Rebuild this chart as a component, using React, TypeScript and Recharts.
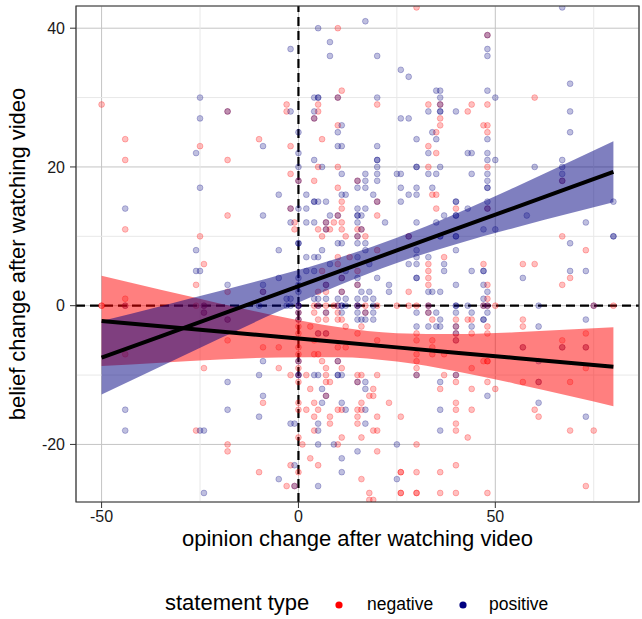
import {
  ComposedChart,
  Scatter,
  Area,
  Line,
  XAxis,
  YAxis,
  CartesianGrid,
  ReferenceLine,
  ReferenceArea,
} from 'recharts'

// opinion change (x) vs belief change (y), one row per answer
const NEGATIVE: [number, number][] = [
  [-50, 29], [-44, 24], [-44, 21], [-44, 11], [-25, 23], [-25, 10], [-18, 28], [-18, 21], [-18, 13], [-10, 24],
  [-3, 29], [-3, 28], [-2, 23], [-2, 19], [-2, 14], [-1, 12], [-1, 11], [0, 18],
  [-50, 0], [-50, 0], [-44, 1], [-44, 0], [-44, -7], [-24, 6], [-26, 3], [-26, 0], [-24, 0], [-24, -1], [-24, -9],
  [-26, -18], [-18, 2], [-18, -2], [-18, -5], [-18, -20], [-18, -21], [-10, -24], [-9, 2], [-9, -6], [-9, -14],
  [-5, -6], [-5, -9], [-3, -26], [-2, -23], [-1, -26], [-2, -10], [0, -10], [0, -3], [0, -4], [0, -6], [0, -7],
  [0, -8], [0, -9], [0, -11], [0, -14], [0, -15], [0, -19], [0, -24], [0, -1], [0, 0],
  [6, -8], [7, -9], [10, -8], [11, -9], [7, -10], [15, -10], [16, -10], [20, -10], [7, -11], [8, -11], [15, -11],
  [19, -12], [7, -13], [18, -13], [19, -13], [16, -14], [23, -14], [5, -15], [10, -15], [11, -15], [15, -15],
  [16, -15], [4, -16], [8, -16], [15, -16], [20, -16], [8, -17], [15, -17], [4, -18], [19, -18], [20, -18],
  [11, -19], [16, -19], [10, -20], [20, -21], [5, -23], [26, -24], [16, -25], [18, -27], [26, -27], [18, -28],
  [19, -28], [5, -4], [7, -4], [15, -4], [10, -6], [12, -6], [4, -5], [20, -5],
  [2, -10], [3, -12], [4, -14], [2, -15], [1, -20], [3, -22], [4, -7], [5, -7],
  [10, 40], [11, 31], [10, 30], [5, 29], [20, 29], [5, 28], [4, 27], [10, 26], [6, 24], [5, 20], [10, 20],
  [30, 43], [48, 39], [33, 29], [36, 29], [44, 29], [48, 29], [43, 28], [36, 27], [36, 26], [47, 26], [48, 26],
  [35, 25], [48, 25], [33, 23], [35, 22], [33, 20], [48, 20],
  [60, 30], [67, 18], [67, 10], [73, 8],
  [4, 18], [15, 18], [10, 17], [11, 15], [20, 15], [11, 14], [10, 13], [20, 13], [7, 12], [9, 12], [11, 12],
  [5, 11], [7, 11], [8, 11], [11, 11], [15, 11], [16, 11], [6, 10], [15, 10], [17, 10], [12, 10], [10, 7],
  [4, 0], [5, 0], [7, 0], [9, 0], [10, 0], [15, 0], [17, 0], [20, 0], [25, 0], [4, -1], [7, -1], [10, -1],
  [17, -1], [0, -2], [5, -2], [7, -2], [10, -2], [11, -2], [5, 2], [7, 2], [11, 2], [7, 3], [15, 3], [11, 4],
  [3, -3], [12, -3], [16, -3], [6, 5], [10, 6], [13, 7], [15, 5], [20, 8],
  [34, 16], [35, 16], [35, 14], [40, 14], [48, 14], [28, 10], [37, 7], [33, 6], [47, 6], [33, 5], [33, 4],
  [33, 3], [48, 3], [28, 2], [48, 1], [28, 0], [30, 0], [33, 0], [47, 0], [48, 0], [50, 0], [33, -1], [34, -2],
  [40, -2], [43, -2], [44, -2], [40, -3], [48, -3], [30, -4], [44, -4], [48, -4], [40, -4],
  [30, -5], [34, -5], [40, -5], [34, -6], [30, -7], [34, -7], [37, -7], [30, -8], [47, -8], [48, -8], [48, -8],
  [30, -9], [44, -9], [30, -10], [37, -10], [40, -10], [40, -11], [48, -11], [36, -12], [44, -12], [50, -12],
  [40, -14], [40, -15], [44, -15], [26, -16], [40, -17], [40, -18], [43, -19], [30, -20], [40, -23], [26, -24],
  [30, -24], [36, -24], [26, -27], [30, -27], [30, -27], [36, -27], [40, -27], [48, -27],
  [57, 6], [60, 6], [69, 4], [67, 3], [75, 0], [80, 0], [57, -2], [57, -3], [73, -4], [67, -5], [57, -6],
  [67, -6], [73, -6], [73, -9], [57, -11], [61, -11], [69, -11], [60, -15], [61, -16], [69, -18], [75, -18],
  [73, -26],
]

const POSITIVE: [number, number][] = [
  [-44, 14], [-25, 30], [-25, 27], [-26, 22], [-25, 17], [-26, 8], [-18, 28], [-9, 23], [-5, 16], [-9, 13],
  [-5, 8], [-2, 28], [-2, 37], [0, 25], [0, 22], [0, 20], [0, 18], [-2, 14], [-2, 12], [0, 14], [0, 9], [0, 9],
  [2, 16], [2, 14], [2, 12],
  [-44, 0], [-44, -15], [-44, -18], [-26, 5], [-25, 5], [-24, 0], [-24, -1], [-25, -18], [-24, -18], [-24, -27],
  [-18, 3], [-18, -2], [-18, -11], [-18, -15], [-9, 3], [-9, 2], [-10, 0], [-9, -8], [-10, -10], [-9, -13],
  [-10, -16], [-5, 4], [-5, -25], [-2, -17], [-1, -23], [-3, 0], [-2, 0], [-3, 1], [-2, 1], [-1, -17],
  [-1, -26], [0, -8], [0, -10], [0, -10],
  [4, -10], [5, -10], [10, -10], [10, -10], [11, -10], [15, -11], [17, -11], [6, -12], [17, -12], [7, -13],
  [6, -14], [11, -14], [12, -15], [17, -15], [5, -17], [17, -17], [5, -18], [5, -20], [9, -20], [25, -20],
  [15, -21], [11, -22], [11, -24], [25, -25], [5, -26], [5, -4], [7, -4], [10, -8],
  [5, 40], [17, 41], [8, 38], [8, 36], [20, 36], [26, 34], [4, 30], [5, 30], [5, 30], [10, 30], [20, 30],
  [4, 28], [4, 27], [26, 27], [11, 26], [10, 25], [10, 23], [11, 23], [20, 23], [4, 21], [20, 21], [20, 21],
  [6, 20], [20, 20],
  [48, 39], [48, 37], [48, 36], [28, 33], [35, 31], [36, 31], [48, 31], [36, 30], [50, 30], [36, 29], [33, 28],
  [36, 28], [36, 28], [40, 28], [28, 27], [34, 25], [30, 24], [35, 24], [48, 24], [33, 22], [43, 22], [44, 22],
  [48, 22], [48, 21], [50, 21], [30, 20], [30, 20], [36, 20],
  [67, 43], [69, 32], [69, 28], [69, 25], [60, 20], [67, 21], [67, 20], [67, 19], [67, 18], [80, 15], [58, 13],
  [73, 12], [80, 10], [80, 10], [69, 9],
  [17, 19], [17, 18], [20, 19], [20, 18], [25, 19], [11, 19], [15, 17], [17, 17], [11, 16], [12, 16], [19, 16],
  [4, 15], [4, 15], [5, 15], [7, 15], [20, 15], [26, 15], [15, 14], [17, 14], [8, 13], [10, 13], [15, 13],
  [15, 13], [16, 13], [4, 12], [7, 12], [15, 12], [22, 12], [7, 11], [16, 11], [15, 10], [10, 9], [11, 9],
  [15, 9], [17, 9], [6, 8], [17, 8], [2, 7], [4, 7], [5, 7], [15, 7], [15, 18],
  [0, 4], [0, 3], [0, 2], [0, 0], [0, 0], [0, 0], [5, 0], [10, 0], [11, 0], [11, 0], [12, 0], [15, 0], [15, 0],
  [19, 0], [0, -1], [7, -1], [11, -1], [15, -1], [17, -1], [19, -1], [0, -2], [15, -2], [16, -2], [17, -2],
  [19, -2], [4, 1], [5, 1], [7, 1], [10, 1], [12, 1], [15, 1], [17, 1], [19, 1], [11, 2], [16, 2], [18, 2],
  [7, 3], [15, 3], [23, 3], [11, 4], [15, 4], [23, 2], [4, 5], [8, 6], [12, 5], [2, 5], [18, 6], [20, 4],
  [26, 19], [33, 19], [35, 19], [44, 19], [48, 19], [48, 18], [26, 17], [30, 17], [34, 17], [48, 17], [48, 17],
  [28, 16], [30, 16], [40, 15], [40, 15], [48, 15], [43, 14], [48, 14], [37, 13], [40, 13], [40, 13], [30, 12],
  [35, 12], [47, 11], [50, 11], [28, 10], [36, 10], [36, 10], [40, 10], [40, 10], [30, 8], [40, 8], [30, 7],
  [33, 7], [28, 6], [30, 6], [37, 6], [37, 5], [44, 5], [47, 5], [47, 5], [30, 4], [30, 4], [40, 3], [47, 3],
  [33, 2], [34, 2], [36, 2], [48, 2], [47, 1], [33, 0], [40, 0], [40, 0], [43, 0], [47, 0], [48, 0],
  [30, -1], [33, -1], [35, -1], [40, -1], [44, -1], [48, -1], [36, -2], [47, -2], [47, -2], [30, -3], [33, -3],
  [35, -3], [36, -3], [40, -3], [44, -3],
  [40, -4], [40, -5], [30, -10], [40, -10], [36, -11], [48, -13], [36, -15], [36, -18],
  [69, 5], [73, 5], [57, 4], [61, 0], [75, 0], [73, -2], [61, -3], [57, -6], [67, -6], [73, -6], [61, -8],
  [61, -11], [61, -14], [73, -16],
]

// linear fits with 95% bands, read at a few x positions
const BAND_X = [-50, -35, -20, -5, 10, 25, 40, 55, 70, 80]
const NEG_FIT = [-2.2, -2.96, -3.72, -4.49, -5.25, -6.01, -6.77, -7.53, -8.29, -8.8]
const NEG_LO = [-8.7, -8.21, -7.77, -7.46, -7.43, -8.06, -9.45, -11.24, -13.17, -14.5]
const NEG_HI = [4.3, 2.29, 0.33, -1.52, -3.07, -3.96, -4.09, -3.82, -3.41, -3.1]
const POS_FIT = [-7.5, -4.41, -1.31, 1.78, 4.87, 7.97, 11.06, 14.15, 17.24, 19.3]
const POS_LO = [-12.8, -8.75, -4.73, -0.81, 2.89, 6.16, 8.87, 11.24, 13.46, 14.9]
const POS_HI = [-2.2, -0.07, 2.11, 4.37, 6.85, 9.78, 13.25, 17.06, 21.02, 23.7]

const X_TICKS = [-50, 0, 50]
const Y_TICKS = [-20, 0, 20, 40]
const X_MINOR = [-25, 25, 75]
const Y_MINOR = [-10, 10, 30]
const X_DOMAIN: [number, number] = [-56.5, 86.5]
const Y_DOMAIN: [number, number] = [-28.3, 43.2]

const RED = '#FF0000'
const NAVY = '#000080'
const FONT = '"Liberation Sans", Arial, Helvetica, sans-serif'

const negPoints = NEGATIVE.map(([x, y]) => ({ x, y }))
const posPoints = POSITIVE.map(([x, y]) => ({ x, y }))
const negBand = BAND_X.map((x, i) => ({ x, y: NEG_FIT[i], band: [NEG_LO[i], NEG_HI[i]] }))
const posBand = BAND_X.map((x, i) => ({ x, y: POS_FIT[i], band: [POS_LO[i], POS_HI[i]] }))

const dot = (color: string) => (props: any) => (
  <circle
    cx={props.cx}
    cy={props.cy}
    r={2.9}
    fill={color}
    fillOpacity={0.25}
    stroke={color}
    strokeOpacity={0.25}
    strokeWidth={1}
  />
)

const TICK_STYLE = { fill: '#1a1a1a', fontSize: 16 }

export default function App() {
  return (
    <div
      style={{
        position: 'absolute',
        left: 0,
        top: 0,
        width: 642,
        height: 619,
        background: '#fff',
        fontFamily: FONT,
        color: '#000',
      }}
    >
      <ComposedChart width={642} height={560} margin={{ top: 6, right: 3, bottom: 0, left: 0 }}>
        <CartesianGrid stroke="#c4c4c4" strokeWidth={1} />
        {X_MINOR.map((v) => (
          <ReferenceLine key={'xm' + v} x={v} stroke="#e8e8e8" strokeWidth={1} zIndex={-90} />
        ))}
        {Y_MINOR.map((v) => (
          <ReferenceLine key={'ym' + v} y={v} stroke="#e8e8e8" strokeWidth={1} zIndex={-90} />
        ))}
        <XAxis
          type="number"
          dataKey="x"
          domain={X_DOMAIN}
          allowDataOverflow
          ticks={X_TICKS}
          interval={0}
          tickSize={6}
          tickMargin={3}
          axisLine={false}
          tickLine={{ stroke: '#333' }}
          tick={TICK_STYLE}
          height={58}
        />
        <YAxis
          type="number"
          dataKey="y"
          domain={Y_DOMAIN}
          allowDataOverflow
          ticks={Y_TICKS}
          interval={0}
          tickSize={6}
          tickMargin={5}
          axisLine={false}
          tickLine={{ stroke: '#333' }}
          tick={TICK_STYLE}
          width={76}
        />
        <ReferenceLine x={0} stroke="#000" strokeWidth={2.2} strokeDasharray="9 5" zIndex={50} />
        <ReferenceLine y={0} stroke="#000" strokeWidth={2.2} strokeDasharray="9 5" zIndex={50} />
        <Scatter data={negPoints} dataKey="y" fill={RED} shape={dot(RED)} isAnimationActive={false} zIndex={60} />
        <Scatter data={posPoints} dataKey="y" fill={NAVY} shape={dot(NAVY)} isAnimationActive={false} zIndex={60} />
        <Area
          data={negBand}
          dataKey="band"
          type="monotone"
          stroke="none"
          fill={RED}
          fillOpacity={0.5}
          isAnimationActive={false}
          zIndex={100}
        />
        <Area
          data={posBand}
          dataKey="band"
          type="monotone"
          stroke="none"
          fill={NAVY}
          fillOpacity={0.5}
          isAnimationActive={false}
          zIndex={101}
        />
        <Line data={negBand} dataKey="y" stroke="#000" strokeWidth={4} dot={false} isAnimationActive={false} zIndex={400} />
        <Line data={posBand} dataKey="y" stroke="#000" strokeWidth={4} dot={false} isAnimationActive={false} zIndex={400} />
        <ReferenceArea
          x1={X_DOMAIN[0]}
          x2={X_DOMAIN[1]}
          y1={Y_DOMAIN[0]}
          y2={Y_DOMAIN[1]}
          fill="none"
          fillOpacity={0}
          stroke="#333"
          strokeWidth={1.2}
          zIndex={500}
        />
      </ComposedChart>

      <div
        style={{
          position: 'absolute',
          left: 76,
          width: 563,
          top: 528,
          textAlign: 'center',
          fontSize: 22,
          lineHeight: '22px',
          whiteSpace: 'nowrap',
        }}
      >
        opinion change after watching video
      </div>
      <div
        style={{
          position: 'absolute',
          left: 18 - 250,
          top: 254 - 11,
          width: 500,
          textAlign: 'center',
          fontSize: 22,
          lineHeight: '22px',
          whiteSpace: 'nowrap',
          transform: 'rotate(-90deg)',
        }}
      >
        belief change after watching video
      </div>

      <div style={{ position: 'absolute', left: 165, top: 592, fontSize: 22, lineHeight: '22px', whiteSpace: 'nowrap' }}>
        statement type
      </div>
      <svg style={{ position: 'absolute', left: 0, top: 590 }} width={642} height={30}>
        <circle cx={339} cy={15} r={3.6} fill={RED} />
        <circle cx={463} cy={15} r={3.6} fill={NAVY} />
      </svg>
      <div style={{ position: 'absolute', left: 367, top: 595, fontSize: 17.5, lineHeight: '18px', whiteSpace: 'nowrap' }}>
        negative
      </div>
      <div style={{ position: 'absolute', left: 489, top: 595, fontSize: 17.5, lineHeight: '18px', whiteSpace: 'nowrap' }}>
        positive
      </div>
    </div>
  )
}
